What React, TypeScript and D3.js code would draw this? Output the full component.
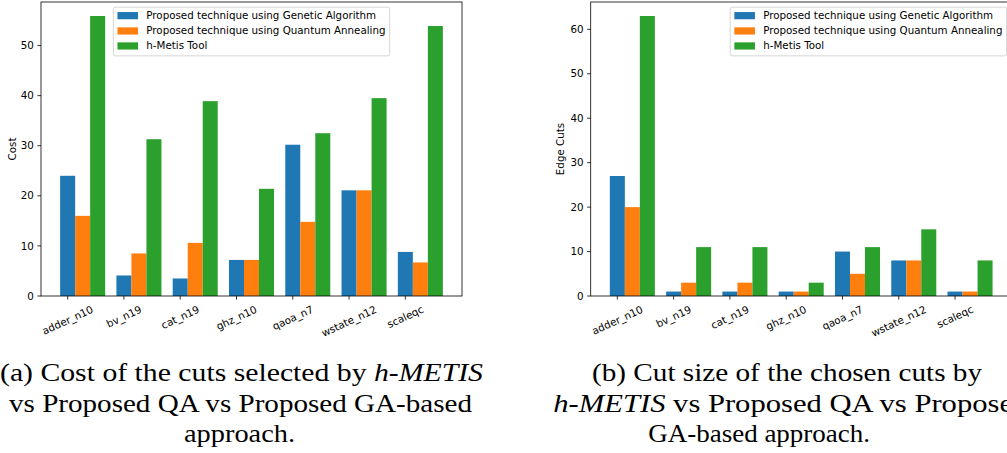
import React from "react";
import * as d3 from "d3";

const categories = ["adder_n10", "bv_n19", "cat_n19", "ghz_n10", "qaoa_n7", "wstate_n12", "scaleqc"];
const seriesNames = [
  "Proposed technique using Genetic Algorithm",
  "Proposed technique using Quantum Annealing",
  "h-Metis Tool",
];
const seriesColors = ["#1f77b4", "#ff7f0e", "#2ca02c"];

const costGA = [24.0, 4.1, 3.5, 7.2, 30.2, 21.1, 8.8];
const costQA = [16.0, 8.5, 10.6, 7.2, 14.8, 21.1, 6.7];
const costHM = [55.9, 31.3, 38.9, 21.4, 32.5, 39.5, 53.9];
const costTicks = [0, 10, 20, 30, 40, 50];

const cutsGA = [27, 1, 1, 1, 10, 8, 1];
const cutsQA = [20, 3, 3, 1, 5, 8, 1];
const cutsHM = [63, 11, 11, 3, 11, 15, 8];
const cutsTicks = [0, 10, 20, 30, 40, 50, 60];

const FS = 10.3;
const SANS = "DejaVu Sans";
const SERIF = "Liberation Serif";
const ROT = 25;

let ctx: CanvasRenderingContext2D | null = null;
function textWidth(s: string, fallbackPerChar = 0.6): number {
  try {
    if (!ctx) ctx = document.createElement("canvas").getContext("2d");
    if (ctx) {
      ctx.font = `${FS}px "${SANS}"`;
      return ctx.measureText(s).width;
    }
  } catch (e) {}
  return s.length * FS * fallbackPerChar;
}

type PanelProps = {
  x0: number; x1: number; y0: number; y1: number;
  series: number[][];
  yTicks: number[];
  ylabel: string;
  ylabelX: number;
  legendLoc: "center" | "right";
};

function Panel({ x0, x1, y0, y1, series, yTicks, ylabel, ylabelX, legendLoc }: PanelProps) {
  const n = categories.length;
  const bw = 0.8 / 3;
  const lo = -bw / 2;
  const hi = n - 1 + 2.5 * bw;
  const pad = (hi - lo) * 0.05;
  const x = d3.scaleLinear().domain([lo - pad, hi + pad]).range([x0, x1]);
  const ymax = (d3.max(series.flat()) as number) * 1.05;
  const y = d3.scaleLinear().domain([0, ymax]).range([y1, y0]);
  const tickLen = 3.6;
  const tickPad = 3.6;

  // legend geometry
  const bp = 0.4 * FS, hl = 2 * FS, htp = 0.8 * FS, bap = 0.5 * FS;
  const maxTW = Math.max(...seriesNames.map((s) => textWidth(s)));
  const lw = bp * 2 + hl + htp + maxTW;
  const lh = 48.7;
  const lx = legendLoc === "center" ? (x0 + x1) / 2 - lw / 2 : x1 - bap - lw;
  const ly = y0 + bap;
  const rowOff = [8.4, 23.7, 38.7];
  const rad = (ROT * Math.PI) / 180;

  return (
    <g>
      {series.map((vals, k) => (
        <g key={k}>
          {vals.map((v, i) => (
            <rect
              key={i}
              x={x(i + k * bw - bw / 2)}
              width={x(bw) - x(0)}
              y={y(v)}
              height={y(0) - y(v)}
              fill={seriesColors[k]}
            />
          ))}
        </g>
      ))}
      {/* spines */}
      <rect x={x0} y={y0} width={x1 - x0} height={y1 - y0} fill="none" stroke="#000" strokeWidth={0.8} />
      {/* y ticks */}
      {yTicks.map((t) => (
        <g key={t}>
          <line x1={x0 - tickLen} x2={x0} y1={y(t)} y2={y(t)} stroke="#000" strokeWidth={0.8} />
          <text x={x0 - tickLen - tickPad} y={y(t)} dy="0.35em" textAnchor="end" fontSize={FS} fontFamily={SANS} fill="#000">
            {t}
          </text>
        </g>
      ))}
      {/* x ticks */}
      {categories.map((c, i) => {
        const tw = textWidth(c);
        const bh = tw * Math.sin(rad) + 1.164 * FS * Math.cos(rad);
        const cx = x(i);
        const cy = y1 + tickLen + tickPad + bh / 2;
        return (
          <g key={c}>
            <line x1={cx} x2={cx} y1={y1} y2={y1 + tickLen} stroke="#000" strokeWidth={0.8} />
            <text
              transform={`translate(${cx},${cy}) rotate(${-ROT})`}
              dy="0.35em"
              textAnchor="middle"
              fontSize={FS}
              fontFamily={SANS}
              fill="#000"
            >
              {c}
            </text>
          </g>
        );
      })}
      {/* y label */}
      <text
        transform={`translate(${ylabelX},${(y0 + y1) / 2}) rotate(-90)`}
        dy="0.35em"
        textAnchor="middle"
        fontSize={FS}
        fontFamily={SANS}
        fill="#000"
      >
        {ylabel}
      </text>
      {/* legend */}
      <rect x={lx} y={ly} width={lw} height={lh} rx={2} ry={2} fill="#fff" fillOpacity={0.8} stroke="#cccccc" strokeWidth={0.8} />
      {seriesNames.map((s, k) => (
        <g key={s}>
          <rect x={lx + bp} y={ly + rowOff[k] - 3.5} width={hl} height={7.2} fill={seriesColors[k]} />
          <text x={lx + bp + hl + htp} y={ly + rowOff[k]} dy="0.35em" fontSize={FS} fontFamily={SANS} fill="#000">
            {s}
          </text>
        </g>
      ))}
    </g>
  );
}

export default function App() {
  const W = 1007, H = 453;
  const capFS = 26;
  return (
    <svg
      width={W}
      height={H}
      viewBox={`0 0 ${W} ${H}`}
      style={{ position: "absolute", left: 0, top: 0, background: "#fff" }}
    >
      <rect x={0} y={0} width={W} height={H} fill="#fff" />
      <Panel
        x0={41} x1={462} y0={2} y1={296}
        series={[costGA, costQA, costHM]}
        yTicks={costTicks}
        ylabel="Cost"
        ylabelX={12}
        legendLoc="center"
      />
      <Panel
        x0={590.7} x1={1011.7} y0={2} y1={296}
        series={[cutsGA, cutsQA, cutsHM]}
        yTicks={cutsTicks}
        ylabel="Edge Cuts"
        ylabelX={560.7}
        legendLoc="right"
      />
      <g fontFamily={SERIF} fontSize={capFS} fill="#000">
        <text x={0} y={381} textLength={483} lengthAdjust="spacingAndGlyphs">
          (a) Cost of the cuts selected by <tspan fontStyle="italic">h-METIS</tspan>
        </text>
        <text x={9} y={411.5} textLength={463} lengthAdjust="spacingAndGlyphs">
          vs Proposed QA vs Proposed GA-based
        </text>
        <text x={184} y={442} textLength={111} lengthAdjust="spacingAndGlyphs">
          approach.
        </text>
        <text x={592} y={381} textLength={390} lengthAdjust="spacingAndGlyphs">
          (b) Cut size of the chosen cuts by
        </text>
        <text x={553.3} y={411.5} textLength={475} lengthAdjust="spacingAndGlyphs">
          <tspan fontStyle="italic">h-METIS</tspan> vs Proposed QA vs Proposed
        </text>
        <text x={648.3} y={442} textLength={221.7} lengthAdjust="spacingAndGlyphs">
          GA-based approach.
        </text>
      </g>
    </svg>
  );
}
